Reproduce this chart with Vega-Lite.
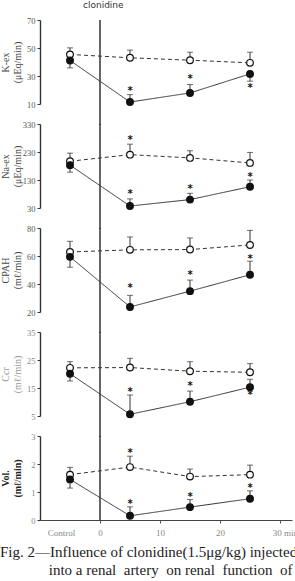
{
 "$schema": "https://vega.github.io/schema/vega-lite/v6.json",
 "background": "white",
 "padding": {"left": 0, "top": 1, "right": 0, "bottom": 0},
 "datasets": {
  "d": [
   {"p":"K","g":"r","t":0,"v":70,"e":-5},
   {"p":"K","g":"o","t":-5,"v":45.4,"e":50.1},
   {"p":"K","g":"o","t":5,"v":43,"e":48.5},
   {"p":"K","g":"o","t":15,"v":41.3,"e":47},
   {"p":"K","g":"o","t":25,"v":39.4,"e":47},
   {"p":"K","g":"c","t":-5,"v":41.1,"e":35.8},
   {"p":"K","g":"c","t":5,"v":11.4,"e":16.7},
   {"p":"K","g":"c","t":15,"v":17.9,"e":23.9},
   {"p":"K","g":"c","t":25,"v":31.5,"e":26.3},
   {"p":"K","g":"s","t":5,"v":20.8},
   {"p":"K","g":"s","t":15,"v":29.4},
   {"p":"K","g":"s","t":25,"v":22.7},
   {"p":"N","g":"r","t":0,"v":330,"e":-45},
   {"p":"N","g":"o","t":-5,"v":197,"e":226},
   {"p":"N","g":"o","t":5,"v":220.5,"e":258},
   {"p":"N","g":"o","t":15,"v":209,"e":234.5},
   {"p":"N","g":"o","t":25,"v":191,"e":228.5},
   {"p":"N","g":"c","t":-5,"v":183,"e":158},
   {"p":"N","g":"c","t":5,"v":37,"e":62.5},
   {"p":"N","g":"c","t":15,"v":60,"e":82.5},
   {"p":"N","g":"c","t":25,"v":106,"e":130},
   {"p":"N","g":"s","t":5,"v":281},
   {"p":"N","g":"s","t":5,"v":88},
   {"p":"N","g":"s","t":15,"v":103.5},
   {"p":"N","g":"s","t":25,"v":149},
   {"p":"P","g":"r","t":0,"v":80,"e":5},
   {"p":"P","g":"o","t":-5,"v":62.9,"e":70.5},
   {"p":"P","g":"o","t":5,"v":64.4,"e":73.6},
   {"p":"P","g":"o","t":15,"v":64.6,"e":72.9},
   {"p":"P","g":"o","t":25,"v":67.9,"e":78.3},
   {"p":"P","g":"c","t":-5,"v":59.4,"e":52},
   {"p":"P","g":"c","t":5,"v":23.6,"e":31.9},
   {"p":"P","g":"c","t":15,"v":34.9,"e":42.8},
   {"p":"P","g":"c","t":25,"v":46.6,"e":56.3},
   {"p":"P","g":"s","t":5,"v":38.3},
   {"p":"P","g":"s","t":15,"v":47.7},
   {"p":"P","g":"s","t":25,"v":59.6},
   {"p":"C","g":"r","t":0,"v":35,"e":-2.5},
   {"p":"C","g":"o","t":-5,"v":22.2,"e":24.4},
   {"p":"C","g":"o","t":5,"v":22.3,"e":25.6},
   {"p":"C","g":"o","t":15,"v":21,"e":24.4},
   {"p":"C","g":"o","t":25,"v":20.6,"e":23.7},
   {"p":"C","g":"c","t":-5,"v":20.1,"e":17.5},
   {"p":"C","g":"c","t":5,"v":5.6,"e":12.5},
   {"p":"C","g":"c","t":15,"v":10.1,"e":13.9},
   {"p":"C","g":"c","t":25,"v":15.3,"e":18.1},
   {"p":"C","g":"s","t":5,"v":14.3},
   {"p":"C","g":"s","t":15,"v":16.5},
   {"p":"C","g":"s","t":25,"v":13.2},
   {"p":"V","g":"r","t":0,"v":3,"e":0},
   {"p":"V","g":"o","t":-5,"v":1.62,"e":1.88},
   {"p":"V","g":"o","t":5,"v":1.89,"e":2.28},
   {"p":"V","g":"o","t":15,"v":1.55,"e":1.82},
   {"p":"V","g":"o","t":25,"v":1.62,"e":1.96},
   {"p":"V","g":"c","t":-5,"v":1.45,"e":1.14},
   {"p":"V","g":"c","t":5,"v":0.15,"e":0.47},
   {"p":"V","g":"c","t":15,"v":0.46,"e":0.73},
   {"p":"V","g":"c","t":25,"v":0.76,"e":1.04},
   {"p":"V","g":"s","t":5,"v":2.46},
   {"p":"V","g":"s","t":5,"v":0.65},
   {"p":"V","g":"s","t":15,"v":0.88},
   {"p":"V","g":"s","t":25,"v":1.21}
  ]
 },
 "title": {
  "text": ["Fig. 2—Influence of clonidine(1.5μg/kg) injected", "\u200b\u00a0\u00a0\u00a0\u00a0\u00a0\u00a0\u00a0\u00a0\u00a0\u00a0\u00a0\u00a0\u00a0into a renal\u00a0 artery\u00a0 on renal\u00a0 function\u00a0 of", "\u200b\u00a0\u00a0\u00a0\u00a0\u00a0\u00a0\u00a0\u00a0\u00a0\u00a0\u00a0\u00a0\u00a0dogs."],
  "orient": "bottom", "anchor": "start", "frame": "bounds",
  "font": "Liberation Serif", "fontSize": 15, "fontWeight": "normal", "color": "#222", "lineHeight": 18, "offset": 8
 },
 "spacing": 20,
 "bounds": "flush",
 "vconcat": [
  {
   "width": 252, "height": 84,
   "title": {"text": "clonidine", "anchor": "start", "frame": "group", "dx": 43, "offset": 6, "font": "DejaVu Sans", "fontSize": 9, "fontWeight": "normal", "color": "#333"},
   "data": {"name": "d"},
   "transform": [{"filter": "datum.p == 'K'"}],
   "encoding": {
    "x": {"field": "t", "type": "quantitative", "scale": {"domain": [-10, 32], "nice": false}, "axis": null},
    "y": {"field": "v", "type": "quantitative", "scale": {"domain": [10, 70], "nice": false, "zero": false}, "axis": {"title": ["K-ex", "(μEq/min)"], "values": [10, 30, 50, 70]}}
   },
   "layer": [
    {"transform": [{"filter": "datum.g == 'r'"}], "mark": {"type": "rule", "color": "#333", "strokeWidth": 1.5}, "encoding": {"y2": {"field": "e"}}},
    {"transform": [{"filter": "datum.g == 'o' || datum.g == 'c'"}], "mark": {"type": "line", "color": "#333", "strokeWidth": 1},
     "encoding": {"strokeDash": {"field": "g", "type": "nominal", "scale": {"domain": ["o", "c"], "range": [[4, 3], [1, 0]]}, "legend": null}}},
    {"transform": [{"filter": "datum.g == 'o' || datum.g == 'c'"}], "mark": {"type": "errorbar", "color": "#333", "thickness": 1, "ticks": {"size": 6, "color": "#333", "thickness": 1}}, "encoding": {"y2": {"field": "e"}}},
    {"transform": [{"filter": "datum.g == 'o' || datum.g == 'c'"}], "mark": {"type": "circle", "size": 45, "stroke": "#111", "strokeWidth": 1.2, "opacity": 1},
     "encoding": {"fill": {"field": "g", "type": "nominal", "scale": {"domain": ["o", "c"], "range": ["white", "#111"]}, "legend": null}}},
    {"transform": [{"filter": "datum.g == 's'"}], "mark": {"type": "text", "text": "*", "fontSize": 10, "font": "DejaVu Sans", "fontWeight": "bold", "fill": "#111", "baseline": "middle", "dy": 2}}
   ]
  },
  {
   "width": 252, "height": 84,
   "data": {"name": "d"},
   "transform": [{"filter": "datum.p == 'N'"}],
   "encoding": {
    "x": {"field": "t", "type": "quantitative", "scale": {"domain": [-10, 32], "nice": false}, "axis": null},
    "y": {"field": "v", "type": "quantitative", "scale": {"domain": [30, 330], "nice": false, "zero": false}, "axis": {"title": ["Na-ex", "(μEq/min)"], "values": [30, 130, 230, 330]}}
   },
   "layer": [
    {"transform": [{"filter": "datum.g == 'r'"}], "mark": {"type": "rule", "color": "#333", "strokeWidth": 1.5}, "encoding": {"y2": {"field": "e"}}},
    {"transform": [{"filter": "datum.g == 'o' || datum.g == 'c'"}], "mark": {"type": "line", "color": "#333", "strokeWidth": 1},
     "encoding": {"strokeDash": {"field": "g", "type": "nominal", "scale": {"domain": ["o", "c"], "range": [[4, 3], [1, 0]]}, "legend": null}}},
    {"transform": [{"filter": "datum.g == 'o' || datum.g == 'c'"}], "mark": {"type": "errorbar", "color": "#333", "thickness": 1, "ticks": {"size": 6, "color": "#333", "thickness": 1}}, "encoding": {"y2": {"field": "e"}}},
    {"transform": [{"filter": "datum.g == 'o' || datum.g == 'c'"}], "mark": {"type": "circle", "size": 45, "stroke": "#111", "strokeWidth": 1.2, "opacity": 1},
     "encoding": {"fill": {"field": "g", "type": "nominal", "scale": {"domain": ["o", "c"], "range": ["white", "#111"]}, "legend": null}}},
    {"transform": [{"filter": "datum.g == 's'"}], "mark": {"type": "text", "text": "*", "fontSize": 10, "font": "DejaVu Sans", "fontWeight": "bold", "fill": "#111", "baseline": "middle", "dy": 2}}
   ]
  },
  {
   "width": 252, "height": 84,
   "data": {"name": "d"},
   "transform": [{"filter": "datum.p == 'P'"}],
   "encoding": {
    "x": {"field": "t", "type": "quantitative", "scale": {"domain": [-10, 32], "nice": false}, "axis": null},
    "y": {"field": "v", "type": "quantitative", "scale": {"domain": [20, 80], "nice": false, "zero": false}, "axis": {"title": ["CPAH", "(mℓ/min)"], "values": [20, 40, 60, 80]}}
   },
   "layer": [
    {"transform": [{"filter": "datum.g == 'r'"}], "mark": {"type": "rule", "color": "#333", "strokeWidth": 1.5}, "encoding": {"y2": {"field": "e"}}},
    {"transform": [{"filter": "datum.g == 'o' || datum.g == 'c'"}], "mark": {"type": "line", "color": "#333", "strokeWidth": 1},
     "encoding": {"strokeDash": {"field": "g", "type": "nominal", "scale": {"domain": ["o", "c"], "range": [[4, 3], [1, 0]]}, "legend": null}}},
    {"transform": [{"filter": "datum.g == 'o' || datum.g == 'c'"}], "mark": {"type": "errorbar", "color": "#333", "thickness": 1, "ticks": {"size": 6, "color": "#333", "thickness": 1}}, "encoding": {"y2": {"field": "e"}}},
    {"transform": [{"filter": "datum.g == 'o' || datum.g == 'c'"}], "mark": {"type": "circle", "size": 45, "stroke": "#111", "strokeWidth": 1.2, "opacity": 1},
     "encoding": {"fill": {"field": "g", "type": "nominal", "scale": {"domain": ["o", "c"], "range": ["white", "#111"]}, "legend": null}}},
    {"transform": [{"filter": "datum.g == 's'"}], "mark": {"type": "text", "text": "*", "fontSize": 10, "font": "DejaVu Sans", "fontWeight": "bold", "fill": "#111", "baseline": "middle", "dy": 2}}
   ]
  },
  {
   "width": 252, "height": 84,
   "data": {"name": "d"},
   "transform": [{"filter": "datum.p == 'C'"}],
   "encoding": {
    "x": {"field": "t", "type": "quantitative", "scale": {"domain": [-10, 32], "nice": false}, "axis": null},
    "y": {"field": "v", "type": "quantitative", "scale": {"domain": [5, 35], "nice": false, "zero": false}, "axis": {"title": ["Ccr", "(mℓ/min)"], "values": [5, 15, 25, 35], "titleColor": "#999", "labelColor": "#888"}}
   },
   "layer": [
    {"transform": [{"filter": "datum.g == 'r'"}], "mark": {"type": "rule", "color": "#333", "strokeWidth": 1.5}, "encoding": {"y2": {"field": "e"}}},
    {"transform": [{"filter": "datum.g == 'o' || datum.g == 'c'"}], "mark": {"type": "line", "color": "#333", "strokeWidth": 1},
     "encoding": {"strokeDash": {"field": "g", "type": "nominal", "scale": {"domain": ["o", "c"], "range": [[4, 3], [1, 0]]}, "legend": null}}},
    {"transform": [{"filter": "datum.g == 'o' || datum.g == 'c'"}], "mark": {"type": "errorbar", "color": "#333", "thickness": 1, "ticks": {"size": 6, "color": "#333", "thickness": 1}}, "encoding": {"y2": {"field": "e"}}},
    {"transform": [{"filter": "datum.g == 'o' || datum.g == 'c'"}], "mark": {"type": "circle", "size": 45, "stroke": "#111", "strokeWidth": 1.2, "opacity": 1},
     "encoding": {"fill": {"field": "g", "type": "nominal", "scale": {"domain": ["o", "c"], "range": ["white", "#111"]}, "legend": null}}},
    {"transform": [{"filter": "datum.g == 's'"}], "mark": {"type": "text", "text": "*", "fontSize": 10, "font": "DejaVu Sans", "fontWeight": "bold", "fill": "#111", "baseline": "middle", "dy": 2}}
   ]
  },
  {
   "width": 252, "height": 84,
   "data": {"name": "d"},
   "transform": [{"filter": "datum.p == 'V'"}],
   "encoding": {
    "x": {"field": "t", "type": "quantitative", "scale": {"domain": [-10, 32], "nice": false},
     "axis": {"title": null, "values": [-6.5, 0, 10, 20, 28.7, 30],
      "labelExpr": "datum.value < 0 ? 'Control' : (datum.value > 28 && datum.value < 29) ? '30 min' : datum.value == 30 ? '' : datum.label",
      "tickOpacity": {"condition": {"test": "datum.value < 0 || (datum.value > 28 && datum.value < 29)", "value": 0}, "value": 1},
      "labelAlign": {"condition": {"test": "datum.value > 28 && datum.value < 29", "value": "left"}, "value": "center"}}},
    "y": {"field": "v", "type": "quantitative", "scale": {"domain": [0, 3], "nice": false, "zero": false}, "axis": {"title": ["Vol.", "(mℓ/min)"], "values": [0, 1, 2, 3], "titleFontWeight": "bold", "titleColor": "#222", "labelColor": "#888"}}
   },
   "layer": [
    {"transform": [{"filter": "datum.g == 'r'"}], "mark": {"type": "rule", "color": "#333", "strokeWidth": 1.5}, "encoding": {"y2": {"field": "e"}}},
    {"transform": [{"filter": "datum.g == 'o' || datum.g == 'c'"}], "mark": {"type": "line", "color": "#333", "strokeWidth": 1},
     "encoding": {"strokeDash": {"field": "g", "type": "nominal", "scale": {"domain": ["o", "c"], "range": [[4, 3], [1, 0]]}, "legend": null}}},
    {"transform": [{"filter": "datum.g == 'o' || datum.g == 'c'"}], "mark": {"type": "errorbar", "color": "#333", "thickness": 1, "ticks": {"size": 6, "color": "#333", "thickness": 1}}, "encoding": {"y2": {"field": "e"}}},
    {"transform": [{"filter": "datum.g == 'o' || datum.g == 'c'"}], "mark": {"type": "circle", "size": 45, "stroke": "#111", "strokeWidth": 1.2, "opacity": 1},
     "encoding": {"fill": {"field": "g", "type": "nominal", "scale": {"domain": ["o", "c"], "range": ["white", "#111"]}, "legend": null}}},
    {"transform": [{"filter": "datum.g == 's'"}], "mark": {"type": "text", "text": "*", "fontSize": 10, "font": "DejaVu Sans", "fontWeight": "bold", "fill": "#111", "baseline": "middle", "dy": 2}}
   ]
  }
 ],
 "config": {
  "view": {"stroke": null},
  "axisY": {"grid": false, "domainColor": "#333", "domainWidth": 1.4, "tickColor": "#333", "tickSize": 3, "labelFont": "Liberation Serif", "labelFontSize": 8.5, "labelColor": "#555", "labelPadding": 2, "labelOverlap": false,
   "titleFont": "Liberation Serif", "titleFontSize": 10, "titleColor": "#444", "titleFontWeight": "normal", "titleLineHeight": 12, "titleX": -40, "titleY": 42, "titleBaseline": "top", "titleAngle": 270, "titleAlign": "center"},
  "axisX": {"grid": false, "domainColor": "#444", "domainWidth": 1, "tickColor": "#555", "tickSize": 3, "labelFont": "Liberation Serif", "labelFontSize": 9, "labelColor": "#888", "labelPadding": 5, "labelFlush": false, "labelOverlap": false}
 }
}
